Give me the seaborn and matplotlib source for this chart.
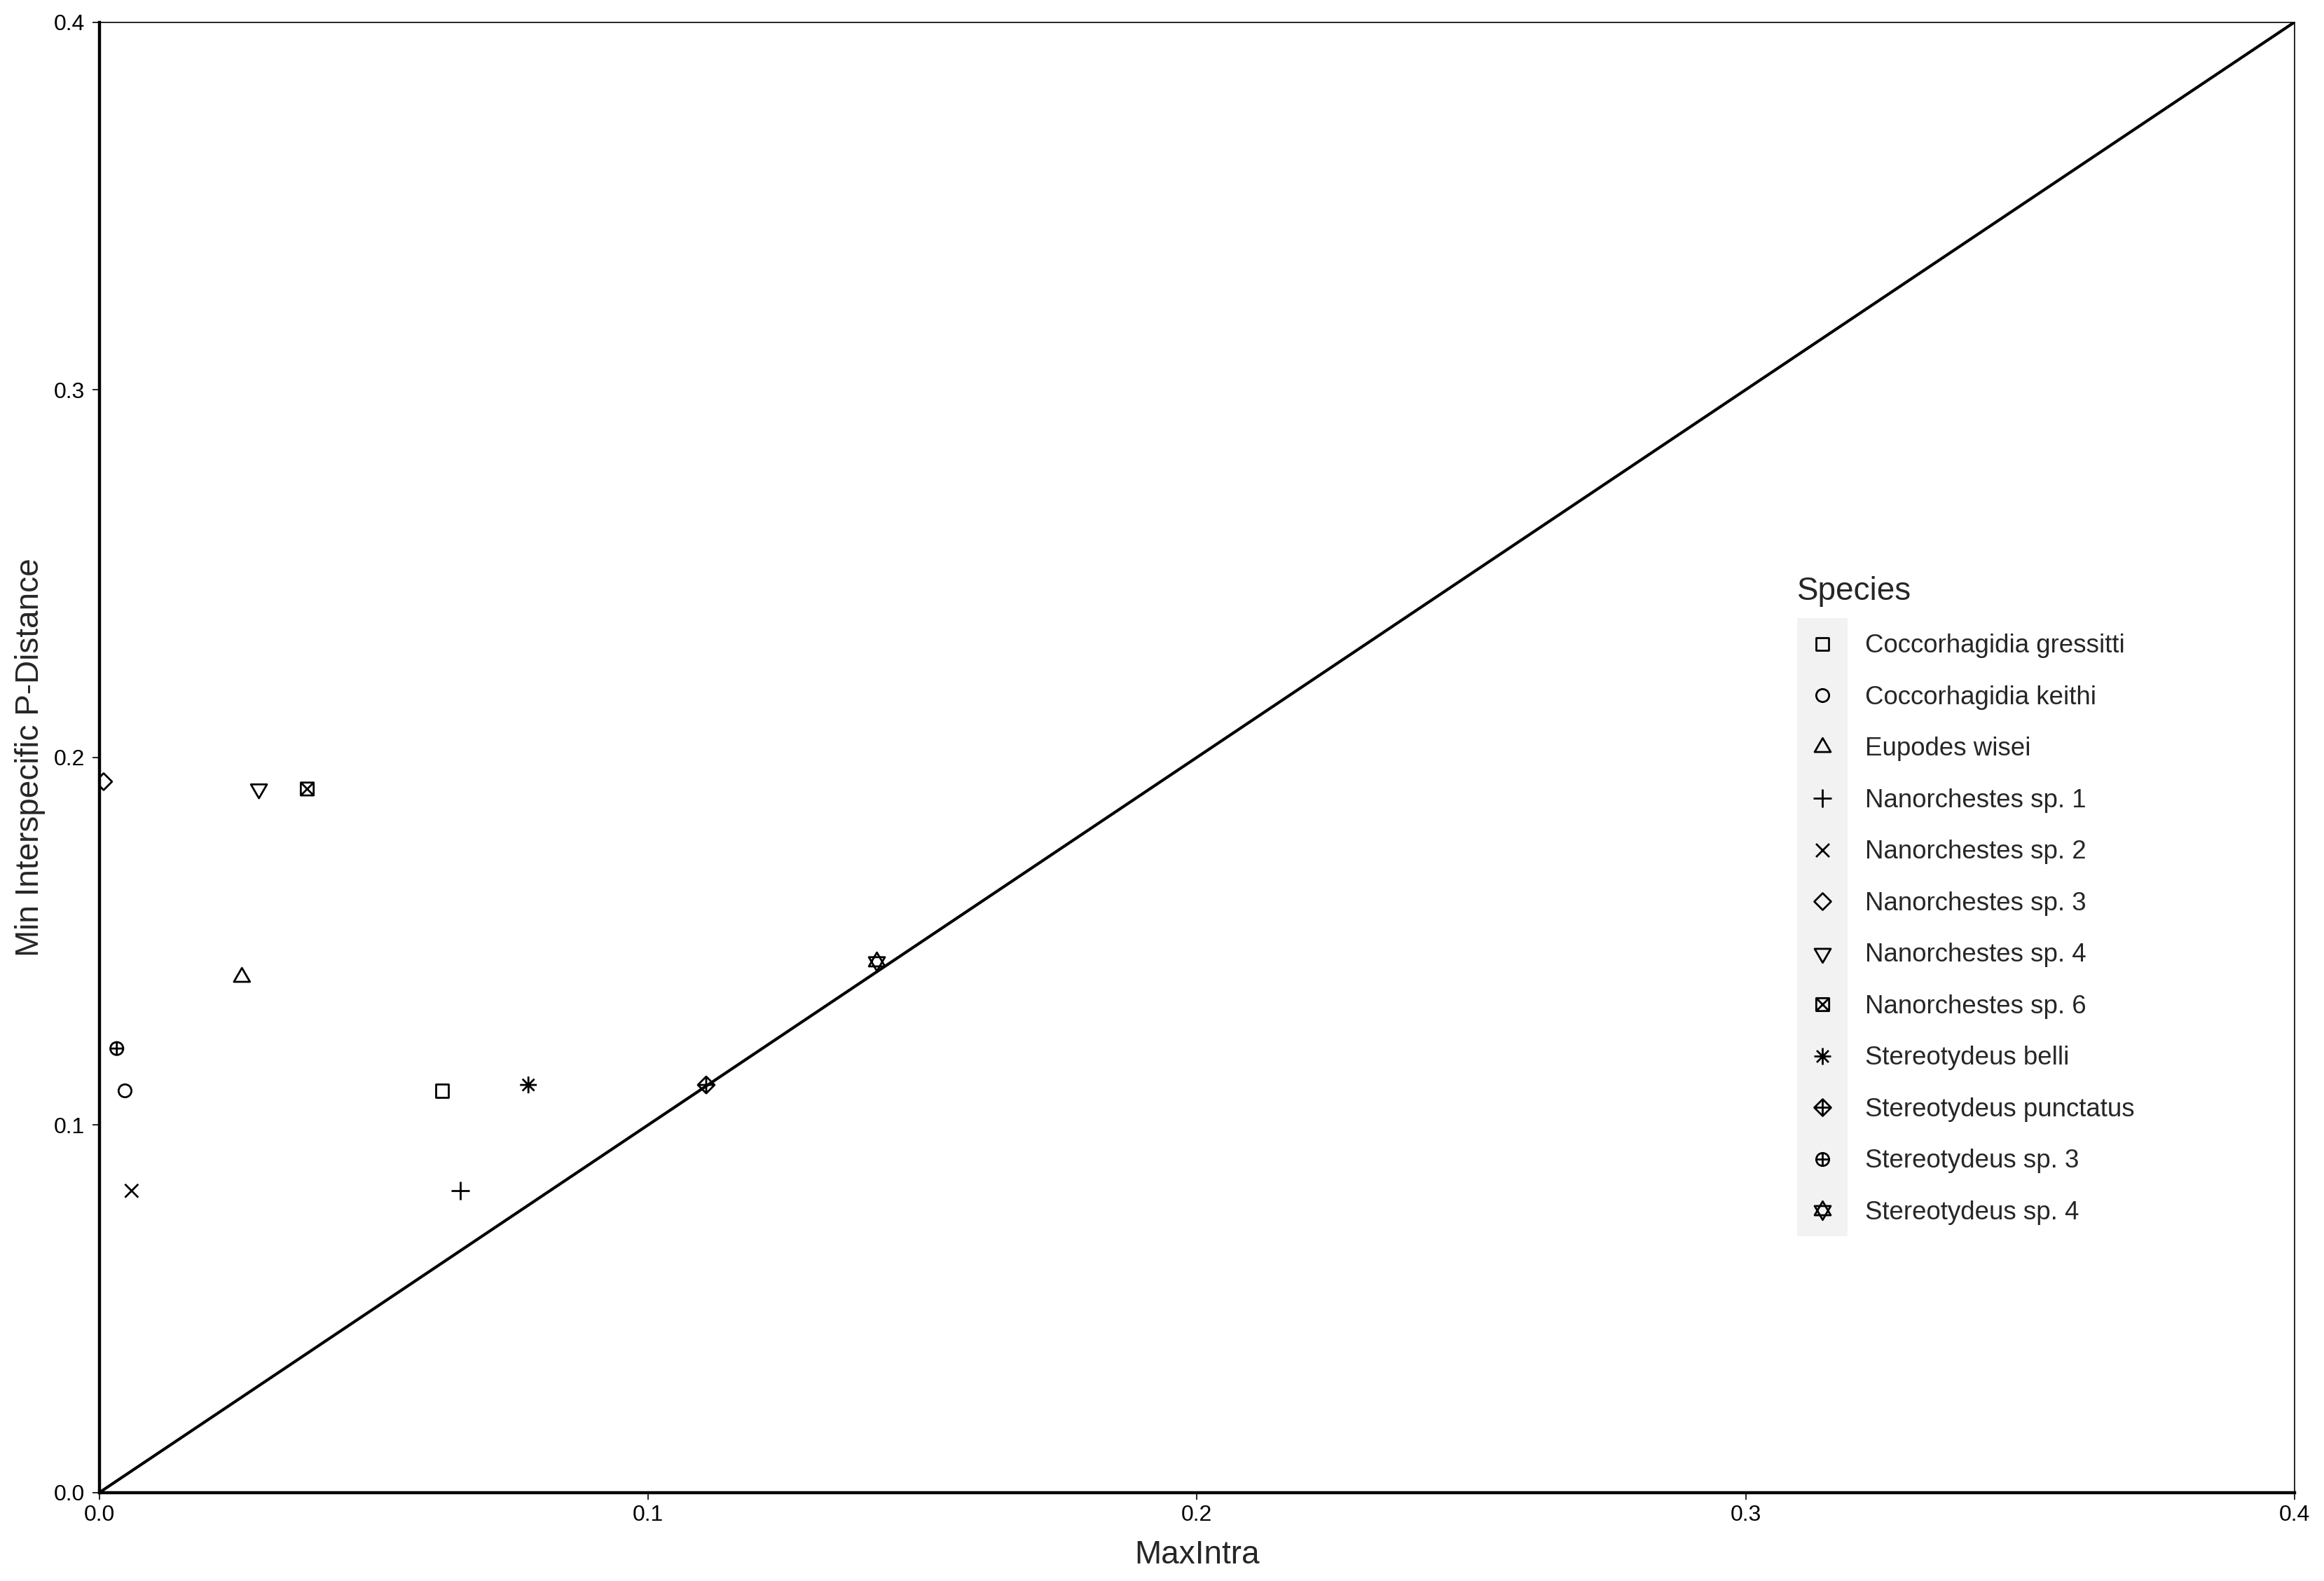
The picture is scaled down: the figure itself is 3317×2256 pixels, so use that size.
import numpy as np
import pandas as pd
import matplotlib
matplotlib.use("Agg")
from matplotlib import pyplot as plt
from matplotlib.path import Path
from matplotlib.patches import Rectangle
import seaborn as sns

species = ["Coccorhagidia gressitti", "Coccorhagidia keithi", "Eupodes wisei",
           "Nanorchestes sp. 1", "Nanorchestes sp. 2", "Nanorchestes sp. 3",
           "Nanorchestes sp. 4", "Nanorchestes sp. 6", "Stereotydeus belli",
           "Stereotydeus punctatus", "Stereotydeus sp. 3", "Stereotydeus sp. 4"]
max_intra = [0.0625, 0.0047, 0.0260, 0.0658, 0.0059, 0.0008,
             0.0291, 0.0379, 0.0782, 0.1106, 0.0032, 0.1417]
min_inter = [0.1093, 0.1093, 0.1402, 0.0821, 0.0821, 0.1934,
             0.1914, 0.1914, 0.1109, 0.1109, 0.1208, 0.1444]
ticks = [0.0, 0.1, 0.2, 0.3, 0.4]


# ggplot-like open shapes, all padded to the same box so they keep relative size
def poly(pts):
    return list(pts) + [pts[0]], [Path.MOVETO] + [Path.LINETO] * (len(pts) - 1) + [Path.CLOSEPOLY]


def seg(a, b):
    return [a, b], [Path.MOVETO, Path.LINETO]


def circ(r):
    p = Path.unit_circle()
    return [tuple(v * r) for v in p.vertices], list(p.codes)


def shape(*parts):
    verts = [(14.0, 14.0)]
    codes = [Path.MOVETO]
    for v, c in parts:
        verts += v
        codes += c
    return Path(verts, codes)


sq = 9.2
tri_up = [(-11.5, -6.6), (11.5, -6.6), (0, 13.3)]
tri_dn = [(x, -y) for x, y in tri_up]
dia = 12.0
markers = {
    species[0]: shape(poly([(-sq, -sq), (sq, -sq), (sq, sq), (-sq, sq)])),
    species[1]: shape(circ(9.2)),
    species[2]: shape(poly(tri_up)),
    species[3]: shape(seg((-13, 0), (13, 0)), seg((0, -13), (0, 13))),
    species[4]: shape(seg((-9.5, -9.5), (9.5, 9.5)), seg((-9.5, 9.5), (9.5, -9.5))),
    species[5]: shape(poly([(-dia, 0), (0, -dia), (dia, 0), (0, dia)])),
    species[6]: shape(poly(tri_dn)),
    species[7]: shape(poly([(-sq, -sq), (sq, -sq), (sq, sq), (-sq, sq)]),
                      seg((-sq, -sq), (sq, sq)), seg((-sq, sq), (sq, -sq))),
    species[8]: shape(seg((-12, 0), (12, 0)), seg((0, -12), (0, 12)),
                      seg((-8.5, -8.5), (8.5, 8.5)), seg((-8.5, 8.5), (8.5, -8.5))),
    species[9]: shape(poly([(-dia, 0), (0, -dia), (dia, 0), (0, dia)]),
                      seg((-dia, 0), (dia, 0)), seg((0, -dia), (0, dia))),
    species[10]: shape(circ(9.2), seg((-9.2, 0), (9.2, 0)), seg((0, -9.2), (0, 9.2))),
    species[11]: shape(poly(tri_up), poly(tri_dn)),
}

df = pd.DataFrame({"MaxIntra": max_intra, "MinInter": min_inter, "Species": species})

sns.set_theme(style="ticks")
plt.rcParams["font.family"] = ["Liberation Sans", "DejaVu Sans"]

fig = plt.figure(figsize=(16.585, 11.28), dpi=200)
ax = fig.add_axes([0.0427, 0.0559, 0.9446, 0.9301])

ax.axline((0, 0), slope=1, color="black", linewidth=1.5, zorder=1)

sns.scatterplot(data=df, x="MaxIntra", y="MinInter", style="Species",
                style_order=species, markers=markers, s=101,
                facecolor="none", edgecolor="black", linewidth=1.0,
                zorder=3, ax=ax)

ax.set_xlim(0, 0.4)
ax.set_ylim(0, 0.4)
ax.set_xticks(ticks)
ax.set_yticks(ticks)
ax.set_xticklabels([f"{t:.1f}" for t in ticks])
ax.set_yticklabels([f"{t:.1f}" for t in ticks])
ax.tick_params(length=3.5, width=0.6, labelsize=11.5, colors="black")
ax.tick_params(axis="x", pad=2.5)
ax.tick_params(axis="y", pad=4)
ax.set_xlabel("MaxIntra", fontsize=16.5, labelpad=7.5)
ax.set_ylabel("Min Interspecific P-Distance", fontsize=16.5, labelpad=4)

for side in ["left", "bottom"]:
    ax.spines[side].set_linewidth(1.6)
for side in ["top", "right"]:
    ax.spines[side].set_visible(True)
    ax.spines[side].set_linewidth(0.6)
for s in ax.spines.values():
    s.set_color("black")

sns.move_legend(ax, "upper left", bbox_to_anchor=(0.7677, 0.6438),
                bbox_transform=fig.transFigure, frameon=False,
                fontsize=13.2, title_fontsize=16.5, labelspacing=1.05,
                handlelength=1.96, handletextpad=0.7, borderpad=0,
                alignment="left")
leg = ax.get_legend()
leg.set_zorder(5)

# grey key background like ggplot's legend.key
fig.canvas.draw()
renderer = fig.canvas.get_renderer()
inv = fig.transFigure.inverted()
centers = []
for h in leg.legend_handles:
    bb = h.get_window_extent(renderer)
    centers.append(((bb.x0 + bb.x1) / 2, (bb.y0 + bb.y1) / 2))
centers = np.array(centers)
pitch = abs(np.mean(np.diff(centers[:, 1])))
cx = centers[:, 0].mean()
x0, y0 = inv.transform((cx - 36, centers[:, 1].min() - pitch / 2))
x1, y1 = inv.transform((cx + 36, centers[:, 1].max() + pitch / 2))
ax.add_patch(Rectangle((x0, y0), x1 - x0, y1 - y0, transform=fig.transFigure,
                       facecolor="#F2F2F2", edgecolor="none", zorder=2, clip_on=False))

fig.savefig("out.png", dpi=200, facecolor="white")
